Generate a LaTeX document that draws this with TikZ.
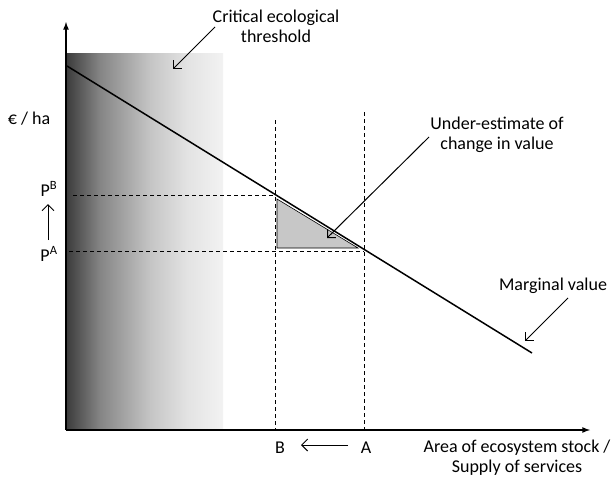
\documentclass[tikz,border=0pt]{standalone}
\usepackage{fontspec}
\setmainfont{Carlito}
\usetikzlibrary{arrows,arrows.meta,positioning}

\pgfdeclarehorizontalshading{fade}{100bp}{color(0bp)=(black!76); color(25bp)=(black!76); color(35.5bp)=(black!48); color(51.5bp)=(black!23); color(63.5bp)=(black!11); color(75bp)=(black!5); color(100bp)=(black!5)}
\tikzset{
	axis/.style={line width=1.6pt,-latex},
	guide/.style={line width=0.8pt,dash pattern=on 4pt off 3pt},
	pointer/.style={line width=1pt,-{Straight Barb[length=6pt,width=12pt]}}
}

\begin{document}
\begin{tikzpicture}[x=1pt,y=-1pt,font=\fontsize{18}{20}\selectfont]
	\useasboundingbox (0,0) rectangle (613,482);
	\shade[shading=fade] (67,53) rectangle (223,430);
	% axes and points
	\path (66,430) coordinate (o)
		  (66,22) coordinate (ytop)
		  (590,430) coordinate (xend)
		  (67,66) coordinate (mv1)
		  (532,353) coordinate (mv2)
		  (275,195) coordinate (pb)
		  (364,251) coordinate (pa)
		  (275,120) coordinate (btop)
		  (364,112) coordinate (atop)
		  (275,430) coordinate (bbot)
		  (364,430) coordinate (abot)
		  (73,195) coordinate (pbl)
		  (69,251) coordinate (pal);
	\fill[black!22,draw=black,line width=0.6pt] (277,199) -- (277,248) -- (358,248) -- cycle;
	\draw[guide] (btop) -- (bbot);
	\draw[guide] (atop) -- (abot);
	\draw[guide] (pbl) -- (pb);
	\draw[guide] (pal) -- (pa);
	\draw[axis] (o) -- (ytop);
	\draw[axis] (o) -- (xend);
	\draw[line width=1.5pt] (mv1) -- (mv2);
	% labels
	\path (276,26) node (threshold) [align=center] {Critical ecological\\threshold}
		  (497,135) node (under) [align=center] {Under-estimate of\\change in value}
		  (553,286) node (marginal) {Marginal value}
		  (29,119) node (unit) {€ / ha}
		  (49,189) node (PB) {P\textsuperscript{B}}
		  (49,254) node (PA) {P\textsuperscript{A}}
		  (280,448) node (B) {B}
		  (366,448) node (A) {A}
		  (517,458) node (area) [align=center] {Area of ecosystem stock /\\Supply of services};
	\path (215,27) coordinate (t1) (173,69) coordinate (t2)
		  (429,137) coordinate (u1) (327,238) coordinate (u2)
		  (568,298) coordinate (m1) (525,341) coordinate (m2)
		  (48,240) coordinate (p1) (48,204) coordinate (p2)
		  (348,445) coordinate (s1) (301,445) coordinate (s2);
	\draw[pointer] (t1) -- (t2);
	\draw[pointer] (u1) -- (u2);
	\draw[pointer] (m1) -- (m2);
	\draw[pointer] (p1) -- (p2);
	\draw[pointer] (s1) -- (s2);
\end{tikzpicture}
\end{document}
